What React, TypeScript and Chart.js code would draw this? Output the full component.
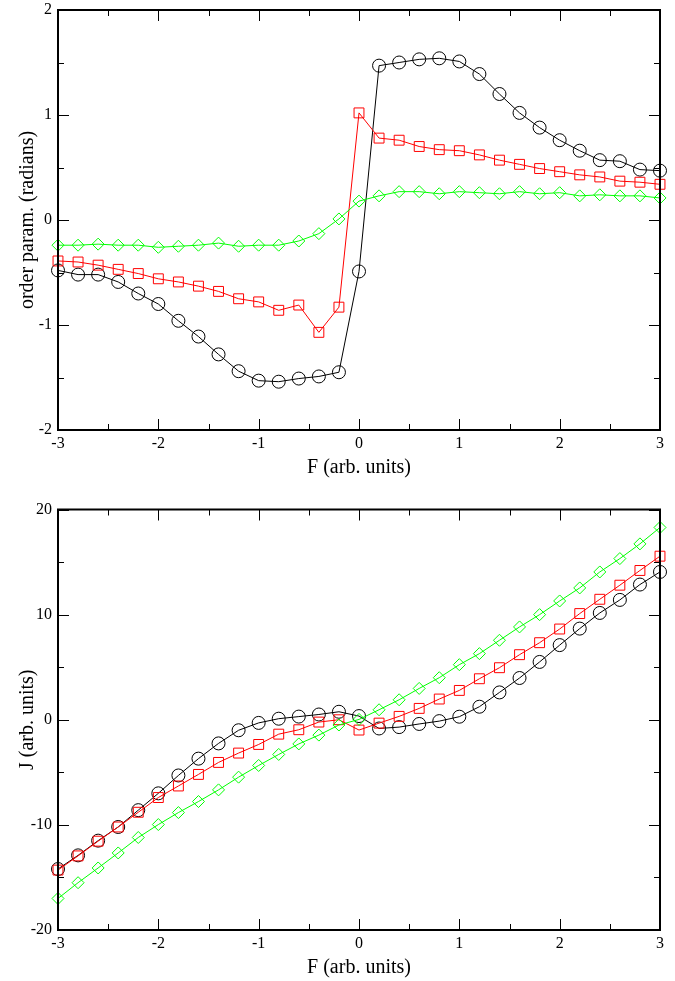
import React, { useEffect, useRef } from "react";
import { Chart, registerables } from "chart.js";

Chart.register(...registerables);

const F = [-3, -2.8, -2.6, -2.4, -2.2, -2, -1.8, -1.6, -1.4, -1.2, -1, -0.8, -0.6, -0.4, -0.2, 0, 0.2, 0.4, 0.6, 0.8, 1, 1.2, 1.4, 1.6, 1.8, 2, 2.2, 2.4, 2.6, 2.8, 3];

const topBlack = [-0.48, -0.52, -0.52, -0.59, -0.70, -0.80, -0.96, -1.11, -1.28, -1.44, -1.53, -1.54, -1.51, -1.49, -1.45, -0.49, 1.47, 1.50, 1.53, 1.54, 1.51, 1.39, 1.20, 1.02, 0.88, 0.76, 0.66, 0.57, 0.56, 0.48, 0.47];
const topRed = [-0.39, -0.40, -0.43, -0.47, -0.51, -0.56, -0.59, -0.63, -0.68, -0.75, -0.78, -0.86, -0.81, -1.07, -0.83, 1.02, 0.78, 0.76, 0.70, 0.67, 0.66, 0.62, 0.57, 0.53, 0.49, 0.46, 0.43, 0.41, 0.37, 0.36, 0.34];
const topGreen = [-0.24, -0.24, -0.23, -0.24, -0.24, -0.26, -0.25, -0.24, -0.22, -0.25, -0.24, -0.24, -0.20, -0.13, 0.01, 0.18, 0.23, 0.27, 0.27, 0.25, 0.27, 0.26, 0.25, 0.27, 0.25, 0.26, 0.23, 0.24, 0.23, 0.23, 0.21];

const botBlack = [-14.2, -12.9, -11.5, -10.2, -8.6, -7.0, -5.3, -3.7, -2.25, -1.0, -0.3, 0.1, 0.3, 0.5, 0.76, 0.35, -0.83, -0.7, -0.4, -0.13, 0.29, 1.24, 2.6, 3.97, 5.5, 7.1, 8.67, 10.16, 11.4, 12.86, 14.06];
const botRed = [-14.3, -12.95, -11.55, -10.2, -8.8, -7.4, -6.3, -5.2, -4.06, -3.17, -2.35, -1.37, -0.95, -0.22, 0, -0.98, -0.32, 0.32, 1.08, 1.97, 2.79, 3.9, 4.95, 6.19, 7.33, 8.63, 10.1, 11.46, 12.8, 14.2, 15.56];
const botGreen = [-17.0, -15.5, -14.1, -12.67, -11.2, -9.97, -8.83, -7.78, -6.67, -5.46, -4.35, -3.3, -2.3, -1.46, -0.5, 0.03, 0.95, 1.9, 2.98, 4.0, 5.24, 6.29, 7.56, 8.83, 10.0, 11.3, 12.54, 14.06, 15.33, 16.73, 18.29];

const xMajor = [-3, -2, -1, 0, 1, 2, 3];
const xMinor = [-2.5, -1.5, -0.5, 0.5, 1.5, 2.5];
const topYMajor = [-2, -1, 0, 1, 2];
const topYMinor = [-1.5, -0.5, 0.5, 1.5];
const botYMajor = [-20, -10, 0, 10, 20];
const botYMinor = [-15, -5, 5, 15];

const FONT = "'Liberation Serif', 'Times New Roman', serif";

function pts(ys: number[]) {
  return F.map((x, i) => ({ x, y: ys[i] }));
}

function makeFramePlugin(yMajor: number[], yMinor: number[]) {
  return {
    id: "frameTicks",
    afterDraw(chart: any) {
      const { ctx, chartArea } = chart;
      const { left, right, top, bottom } = chartArea;
      const xs = chart.scales.x;
      const ys = chart.scales.y;
      const MAJ = 11, MIN = 6;
      ctx.save();
      ctx.strokeStyle = "#000";
      ctx.lineWidth = 1;
      ctx.beginPath();
      const vt = (v: number, len: number) => {
        const p = Math.round(xs.getPixelForValue(v)) + 0.5;
        ctx.moveTo(p, bottom); ctx.lineTo(p, bottom - len);
        ctx.moveTo(p, top); ctx.lineTo(p, top + len);
      };
      const ht = (v: number, len: number) => {
        const p = Math.round(ys.getPixelForValue(v)) + 0.5;
        ctx.moveTo(left, p); ctx.lineTo(left + len, p);
        ctx.moveTo(right, p); ctx.lineTo(right - len, p);
      };
      xMajor.forEach((v) => vt(v, MAJ));
      xMinor.forEach((v) => vt(v, MIN));
      yMajor.forEach((v) => ht(v, MAJ));
      yMinor.forEach((v) => ht(v, MIN));
      ctx.stroke();
      ctx.lineWidth = 2;
      ctx.strokeRect(left, top, right - left, bottom - top);
      ctx.restore();
    },
  };
}

function ds(data: number[], color: string, style: string, radius: number, order: number) {
  return {
    data: pts(data),
    borderColor: color,
    borderWidth: 1,
    pointStyle: style,
    pointRadius: radius,
    pointHoverRadius: radius,
    pointBorderColor: color,
    pointBackgroundColor: "rgba(0,0,0,0)",
    pointBorderWidth: 1,
    tension: 0,
    fill: false,
    clip: false,
    order,
  };
}

function makeConfig(opts: {
  black: number[]; red: number[]; green: number[];
  yMin: number; yMax: number; yStep: number; yTitle: string;
  padTop: number; xHeight: number; xTitlePad: number;
  yMajor: number[]; yMinor: number[];
}) {
  return {
    type: "line",
    data: {
      datasets: [
        ds(opts.black, "#000000", "circle", 6.5, 3),
        ds(opts.red, "#ff0000", "rect", 7, 2),
        ds(opts.green, "#00ff00", "rectRot", 6, 1),
      ],
    },
    options: {
      responsive: false,
      animation: false,
      events: [],
      layout: { padding: { top: opts.padTop, right: 15, left: 0, bottom: 0 } },
      plugins: { legend: { display: false }, tooltip: { enabled: false }, title: { display: false } },
      scales: {
        x: {
          type: "linear",
          min: -3,
          max: 3,
          grid: { display: false, drawTicks: false },
          border: { display: false },
          ticks: { stepSize: 1, padding: 4, color: "#000", font: { family: FONT, size: 16 } },
          title: { display: true, text: "F (arb. units)", color: "#000", font: { family: FONT, size: 20 }, padding: { top: 0, bottom: opts.xTitlePad } },
          afterFit: (s: any) => { s.height = opts.xHeight; s.paddingLeft = 0; s.paddingRight = 0; },
        },
        y: {
          type: "linear",
          min: opts.yMin,
          max: opts.yMax,
          grid: { display: false, drawTicks: false },
          border: { display: false },
          ticks: { stepSize: opts.yStep, padding: 6, color: "#000", font: { family: FONT, size: 16 } },
          title: { display: true, text: opts.yTitle, color: "#000", font: { family: FONT, size: 20 }, padding: { top: 16, bottom: 0 } },
          afterFit: (s: any) => { s.width = 58; s.paddingTop = 0; s.paddingBottom = 0; },
        },
      },
    },
    plugins: [makeFramePlugin(opts.yMajor, opts.yMinor)],
  };
}

function ChartCanvas({ config, width, height, top }: { config: any; width: number; height: number; top: number }) {
  const ref = useRef<HTMLCanvasElement | null>(null);
  useEffect(() => {
    if (!ref.current) return;
    const chart = new Chart(ref.current, config);
    return () => chart.destroy();
  }, [config]);
  return (
    <canvas
      ref={ref}
      width={width}
      height={height}
      style={{ position: "absolute", left: 0, top, width, height, display: "block" }}
    />
  );
}

const topConfig = makeConfig({
  black: topBlack, red: topRed, green: topGreen,
  yMin: -2, yMax: 2, yStep: 1, yTitle: "order param. (radians)",
  padTop: 10, xHeight: 60, xTitlePad: 10,
  yMajor: topYMajor, yMinor: topYMinor,
});

const botConfig = makeConfig({
  black: botBlack, red: botRed, green: botGreen,
  yMin: -20, yMax: 20, yStep: 10, yTitle: "J (arb. units)",
  padTop: 19.5, xHeight: 51, xTitlePad: 1,
  yMajor: botYMajor, yMinor: botYMinor,
});

export default function App() {
  return (
    <div style={{ position: "absolute", left: 0, top: 0, width: 675, height: 981, background: "#fff" }}>
      <ChartCanvas config={topConfig} width={675} height={490} top={0} />
      <ChartCanvas config={botConfig} width={675} height={491} top={490} />
    </div>
  );
}
